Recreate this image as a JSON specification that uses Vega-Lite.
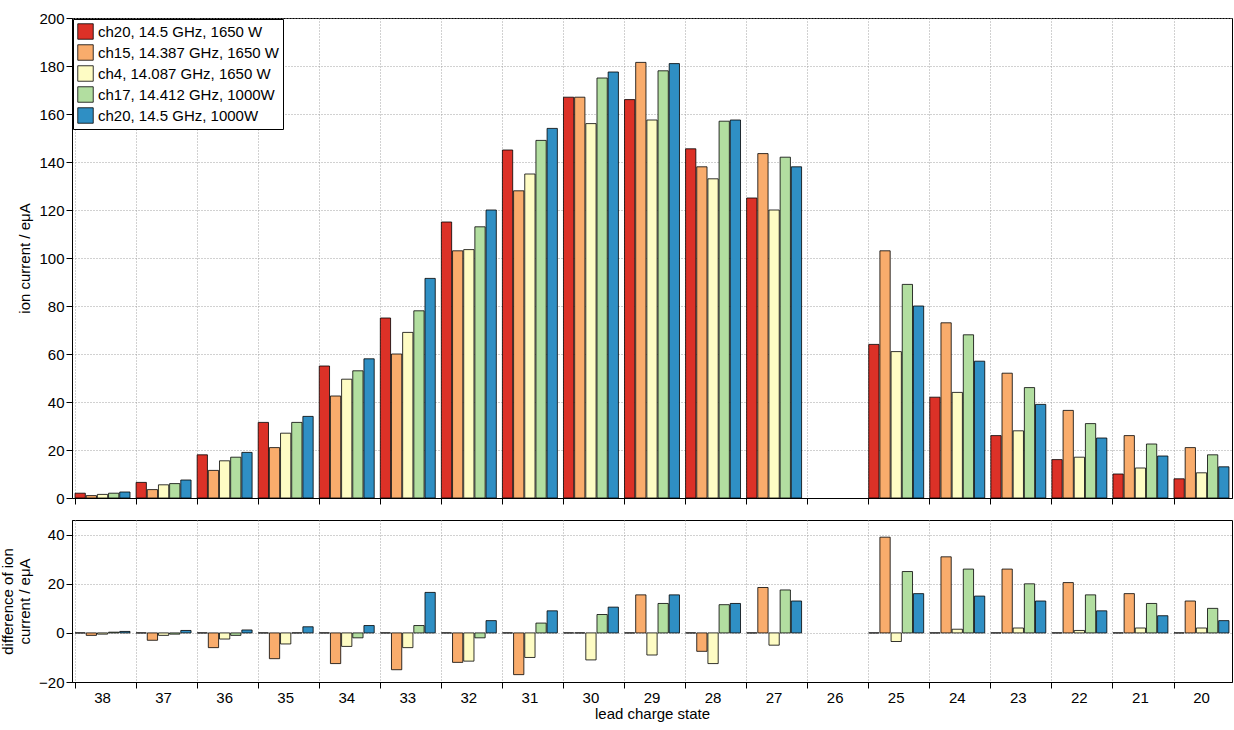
{
  "$schema": "https://vega.github.io/schema/vega-lite/v6.json",
  "background": "white",
  "padding": {"left": 0, "top": 10, "right": 2, "bottom": 2},
  "data": {"values": [
    {"state":"38","series":"ch20, 14.5 GHz, 1650 W","current":2,"diff":0},
    {"state":"38","series":"ch15, 14.387 GHz, 1650 W","current":1,"diff":-1},
    {"state":"38","series":"ch4, 14.087 GHz, 1650 W","current":1.5,"diff":-0.5},
    {"state":"38","series":"ch17, 14.412 GHz, 1000W","current":2,"diff":0.3},
    {"state":"38","series":"ch20, 14.5 GHz, 1000W","current":2.5,"diff":0.6},
    {"state":"37","series":"ch20, 14.5 GHz, 1650 W","current":6.5,"diff":0},
    {"state":"37","series":"ch15, 14.387 GHz, 1650 W","current":3.5,"diff":-3},
    {"state":"37","series":"ch4, 14.087 GHz, 1650 W","current":5.5,"diff":-1},
    {"state":"37","series":"ch17, 14.412 GHz, 1000W","current":6,"diff":-0.5},
    {"state":"37","series":"ch20, 14.5 GHz, 1000W","current":7.5,"diff":1},
    {"state":"36","series":"ch20, 14.5 GHz, 1650 W","current":18,"diff":0},
    {"state":"36","series":"ch15, 14.387 GHz, 1650 W","current":11.5,"diff":-6},
    {"state":"36","series":"ch4, 14.087 GHz, 1650 W","current":15.5,"diff":-2.5},
    {"state":"36","series":"ch17, 14.412 GHz, 1000W","current":17,"diff":-1},
    {"state":"36","series":"ch20, 14.5 GHz, 1000W","current":19,"diff":1.2},
    {"state":"35","series":"ch20, 14.5 GHz, 1650 W","current":31.5,"diff":0},
    {"state":"35","series":"ch15, 14.387 GHz, 1650 W","current":21,"diff":-10.5},
    {"state":"35","series":"ch4, 14.087 GHz, 1650 W","current":27,"diff":-4.5},
    {"state":"35","series":"ch17, 14.412 GHz, 1000W","current":31.5,"diff":0},
    {"state":"35","series":"ch20, 14.5 GHz, 1000W","current":34,"diff":2.5},
    {"state":"34","series":"ch20, 14.5 GHz, 1650 W","current":55,"diff":0},
    {"state":"34","series":"ch15, 14.387 GHz, 1650 W","current":42.5,"diff":-12.5},
    {"state":"34","series":"ch4, 14.087 GHz, 1650 W","current":49.5,"diff":-5.5},
    {"state":"34","series":"ch17, 14.412 GHz, 1000W","current":53,"diff":-2},
    {"state":"34","series":"ch20, 14.5 GHz, 1000W","current":58,"diff":3},
    {"state":"33","series":"ch20, 14.5 GHz, 1650 W","current":75,"diff":0},
    {"state":"33","series":"ch15, 14.387 GHz, 1650 W","current":60,"diff":-15},
    {"state":"33","series":"ch4, 14.087 GHz, 1650 W","current":69,"diff":-6},
    {"state":"33","series":"ch17, 14.412 GHz, 1000W","current":78,"diff":3},
    {"state":"33","series":"ch20, 14.5 GHz, 1000W","current":91.5,"diff":16.5},
    {"state":"32","series":"ch20, 14.5 GHz, 1650 W","current":115,"diff":0},
    {"state":"32","series":"ch15, 14.387 GHz, 1650 W","current":103,"diff":-12},
    {"state":"32","series":"ch4, 14.087 GHz, 1650 W","current":103.5,"diff":-11.5},
    {"state":"32","series":"ch17, 14.412 GHz, 1000W","current":113,"diff":-2},
    {"state":"32","series":"ch20, 14.5 GHz, 1000W","current":120,"diff":5},
    {"state":"31","series":"ch20, 14.5 GHz, 1650 W","current":145,"diff":0},
    {"state":"31","series":"ch15, 14.387 GHz, 1650 W","current":128,"diff":-17},
    {"state":"31","series":"ch4, 14.087 GHz, 1650 W","current":135,"diff":-10},
    {"state":"31","series":"ch17, 14.412 GHz, 1000W","current":149,"diff":4},
    {"state":"31","series":"ch20, 14.5 GHz, 1000W","current":154,"diff":9},
    {"state":"30","series":"ch20, 14.5 GHz, 1650 W","current":167,"diff":0},
    {"state":"30","series":"ch15, 14.387 GHz, 1650 W","current":167,"diff":0},
    {"state":"30","series":"ch4, 14.087 GHz, 1650 W","current":156,"diff":-11},
    {"state":"30","series":"ch17, 14.412 GHz, 1000W","current":175,"diff":7.5},
    {"state":"30","series":"ch20, 14.5 GHz, 1000W","current":177.5,"diff":10.5},
    {"state":"29","series":"ch20, 14.5 GHz, 1650 W","current":166,"diff":0},
    {"state":"29","series":"ch15, 14.387 GHz, 1650 W","current":181.5,"diff":15.5},
    {"state":"29","series":"ch4, 14.087 GHz, 1650 W","current":157.5,"diff":-9},
    {"state":"29","series":"ch17, 14.412 GHz, 1000W","current":178,"diff":12},
    {"state":"29","series":"ch20, 14.5 GHz, 1000W","current":181,"diff":15.5},
    {"state":"28","series":"ch20, 14.5 GHz, 1650 W","current":145.5,"diff":0},
    {"state":"28","series":"ch15, 14.387 GHz, 1650 W","current":138,"diff":-7.5},
    {"state":"28","series":"ch4, 14.087 GHz, 1650 W","current":133,"diff":-12.5},
    {"state":"28","series":"ch17, 14.412 GHz, 1000W","current":157,"diff":11.5},
    {"state":"28","series":"ch20, 14.5 GHz, 1000W","current":157.5,"diff":12},
    {"state":"27","series":"ch20, 14.5 GHz, 1650 W","current":125,"diff":0},
    {"state":"27","series":"ch15, 14.387 GHz, 1650 W","current":143.5,"diff":18.5},
    {"state":"27","series":"ch4, 14.087 GHz, 1650 W","current":120,"diff":-5},
    {"state":"27","series":"ch17, 14.412 GHz, 1000W","current":142,"diff":17.5},
    {"state":"27","series":"ch20, 14.5 GHz, 1000W","current":138,"diff":13},
    {"state":"25","series":"ch20, 14.5 GHz, 1650 W","current":64,"diff":0},
    {"state":"25","series":"ch15, 14.387 GHz, 1650 W","current":103,"diff":39},
    {"state":"25","series":"ch4, 14.087 GHz, 1650 W","current":61,"diff":-3.5},
    {"state":"25","series":"ch17, 14.412 GHz, 1000W","current":89,"diff":25},
    {"state":"25","series":"ch20, 14.5 GHz, 1000W","current":80,"diff":16},
    {"state":"24","series":"ch20, 14.5 GHz, 1650 W","current":42,"diff":0},
    {"state":"24","series":"ch15, 14.387 GHz, 1650 W","current":73,"diff":31},
    {"state":"24","series":"ch4, 14.087 GHz, 1650 W","current":44,"diff":1.5},
    {"state":"24","series":"ch17, 14.412 GHz, 1000W","current":68,"diff":26},
    {"state":"24","series":"ch20, 14.5 GHz, 1000W","current":57,"diff":15},
    {"state":"23","series":"ch20, 14.5 GHz, 1650 W","current":26,"diff":0},
    {"state":"23","series":"ch15, 14.387 GHz, 1650 W","current":52,"diff":26},
    {"state":"23","series":"ch4, 14.087 GHz, 1650 W","current":28,"diff":2},
    {"state":"23","series":"ch17, 14.412 GHz, 1000W","current":46,"diff":20},
    {"state":"23","series":"ch20, 14.5 GHz, 1000W","current":39,"diff":13},
    {"state":"22","series":"ch20, 14.5 GHz, 1650 W","current":16,"diff":0},
    {"state":"22","series":"ch15, 14.387 GHz, 1650 W","current":36.5,"diff":20.5},
    {"state":"22","series":"ch4, 14.087 GHz, 1650 W","current":17,"diff":1},
    {"state":"22","series":"ch17, 14.412 GHz, 1000W","current":31,"diff":15.5},
    {"state":"22","series":"ch20, 14.5 GHz, 1000W","current":25,"diff":9},
    {"state":"21","series":"ch20, 14.5 GHz, 1650 W","current":10,"diff":0},
    {"state":"21","series":"ch15, 14.387 GHz, 1650 W","current":26,"diff":16},
    {"state":"21","series":"ch4, 14.087 GHz, 1650 W","current":12.5,"diff":2},
    {"state":"21","series":"ch17, 14.412 GHz, 1000W","current":22.5,"diff":12},
    {"state":"21","series":"ch20, 14.5 GHz, 1000W","current":17.5,"diff":7},
    {"state":"20","series":"ch20, 14.5 GHz, 1650 W","current":8,"diff":0},
    {"state":"20","series":"ch15, 14.387 GHz, 1650 W","current":21,"diff":13},
    {"state":"20","series":"ch4, 14.087 GHz, 1650 W","current":10.5,"diff":2},
    {"state":"20","series":"ch17, 14.412 GHz, 1000W","current":18,"diff":10},
    {"state":"20","series":"ch20, 14.5 GHz, 1000W","current":13,"diff":5}
  ]},
  "spacing": 12,
  "vconcat": [
    {
      "width": 1160,
      "height": 480,
      "mark": {"type": "bar", "stroke": "black", "strokeWidth": 0.8},
      "encoding": {
        "x": {"field": "state", "type": "nominal",
          "scale": {"domain": ["38","37","36","35","34","33","32","31","30","29","28","27","26","25","24","23","22","21","20"], "paddingInner": 0.1, "paddingOuter": 0.05},
          "axis": {"labels": false, "title": null, "bandPosition": 0, "ticks": true, "tickSize": 6, "grid": true}},
        "xOffset": {"field": "series", "sort": ["ch20, 14.5 GHz, 1650 W","ch15, 14.387 GHz, 1650 W","ch4, 14.087 GHz, 1650 W","ch17, 14.412 GHz, 1000W","ch20, 14.5 GHz, 1000W"], "scale": {"paddingInner": 0.08}},
        "y": {"field": "current", "type": "quantitative", "title": "ion current / eμA",
          "scale": {"domain": [0, 200]}, "axis": {"values": [0,20,40,60,80,100,120,140,160,180,200]}},
        "color": {"field": "series", "type": "nominal",
          "sort": ["ch20, 14.5 GHz, 1650 W","ch15, 14.387 GHz, 1650 W","ch4, 14.087 GHz, 1650 W","ch17, 14.412 GHz, 1000W","ch20, 14.5 GHz, 1000W"],
          "scale": {"range": ["#dc3127", "#f9ac6c", "#fefcc4", "#b2dea0", "#2f8fc4"]},
          "legend": {"orient": "top-left", "title": null, "offset": 1, "padding": 4, "strokeColor": "black", "fillColor": "white", "labelLimit": 0,
            "symbolType": "square", "symbolSize": 240, "symbolStrokeColor": "black", "symbolStrokeWidth": 0.8, "labelFontSize": 15, "rowPadding": 2, "labelFont": "Liberation Sans"}}
      }
    },
    {
      "width": 1160,
      "height": 162,
      "mark": {"type": "bar", "stroke": "black", "strokeWidth": 0.8},
      "encoding": {
        "x": {"field": "state", "type": "nominal",
          "scale": {"domain": ["38","37","36","35","34","33","32","31","30","29","28","27","26","25","24","23","22","21","20"], "paddingInner": 0.1, "paddingOuter": 0.05},
          "axis": {"title": "lead charge state", "labelAngle": 0, "bandPosition": 0, "tickSize": 6, "grid": true, "labelFontSize": 15, "titlePadding": 1}},
        "xOffset": {"field": "series", "sort": ["ch20, 14.5 GHz, 1650 W","ch15, 14.387 GHz, 1650 W","ch4, 14.087 GHz, 1650 W","ch17, 14.412 GHz, 1000W","ch20, 14.5 GHz, 1000W"], "scale": {"paddingInner": 0.08}},
        "y": {"field": "diff", "type": "quantitative", "title": ["difference of ion", "current / eμA"],
          "scale": {"domain": [-20, 46]}, "axis": {"values": [-20, 0, 20, 40]}},
        "color": {"field": "series", "type": "nominal",
          "sort": ["ch20, 14.5 GHz, 1650 W","ch15, 14.387 GHz, 1650 W","ch4, 14.087 GHz, 1650 W","ch17, 14.412 GHz, 1000W","ch20, 14.5 GHz, 1000W"],
          "scale": {"range": ["#dc3127", "#f9ac6c", "#fefcc4", "#b2dea0", "#2f8fc4"]},
          "legend": null}
      }
    }
  ],
  "config": {
    "font": "Liberation Sans",
    "view": {"stroke": "black", "strokeWidth": 1},
    "axis": {"domainColor": "black", "tickColor": "black", "labelColor": "black", "titleColor": "black",
      "labelFontSize": 15, "titleFontSize": 15, "titleFontWeight": "normal",
      "gridColor": "#999", "gridDash": [1, 2], "gridOpacity": 0.9},
    "axisY": {"tickSize": 6, "titlePadding": 6}
  }
}
